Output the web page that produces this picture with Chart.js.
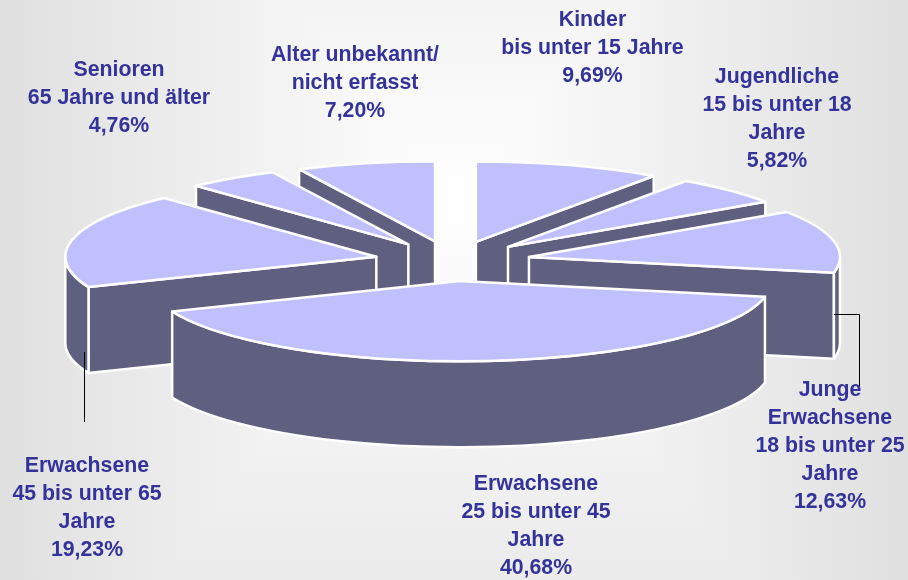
<!DOCTYPE html>
<html>
<head>
<meta charset="utf-8">
<style>
html,body{margin:0;padding:0;width:908px;height:580px;overflow:hidden;}
body{background-color:#fff;background-image:linear-gradient(90deg,#e0e0e0,#ffffff 50%,#e0e0e0),linear-gradient(180deg,#f4f4f4 0,#ffffff 200px,#ebebeb 580px);background-blend-mode:darken;}
canvas{display:block;}
</style>
<script src="https://cdn.jsdelivr.net/npm/chart.js@4"></script>
</head>
<body>
<canvas id="c" width="908" height="580"></canvas>
<script>
const categories = [
  ["Kinder","bis unter 15 Jahre"],
  ["Jugendliche","15 bis unter 18","Jahre"],
  ["Junge","Erwachsene","18 bis unter 25","Jahre"],
  ["Erwachsene","25 bis unter 45","Jahre"],
  ["Erwachsene","45 bis unter 65","Jahre"],
  ["Senioren","65 Jahre und älter"],
  ["Alter unbekannt/","nicht erfasst"]
];
const values = [9.69, 5.82, 12.63, 40.68, 19.23, 4.76, 7.20];
const valueLabels = ["9,69%","5,82%","12,63%","40,68%","19,23%","4,76%","7,20%"];

const labelCenterX = [592.5, 777, 830, 536, 87, 119, 355];
const labelFirstY = [20, 77, 390, 484, 466, 70, 55];
const labelLineHeight = 28;

const TOP_COLOR = "#c0c0ff", SIDE_COLOR = "#5f5f80", EDGE = "#ffffff", TEXT = "#333399";
const SQUASH = 0.258, DEPTH = 86, RADIUS = 311, EXPLODE = 78, EDGE_W = 2.5;

const pie3d = {
  id: "pie3d",
  beforeDatasetsDraw(chart) {
    const ctx = chart.ctx;
    const arcs = chart.getDatasetMeta(0).data;
    const cy = arcs[0].y;
    const order = arcs.map((a, i) => i).sort((p, q) => Math.sin((arcs[p].startAngle + arcs[p].endAngle) / 2) - Math.sin((arcs[q].startAngle + arcs[q].endAngle) / 2));
    const TAU = Math.PI * 2;
    for (const i of order) {
      const el = arcs[i];
      const a = el.startAngle, b = el.endAngle;
      const mid = (a + b) / 2;
      const R = el.outerRadius;
      const dx = Math.cos(mid) * EXPLODE, dy = Math.sin(mid) * EXPLODE * SQUASH;
      const ox = el.x + dx, oy = cy + dy;
      const pt = t => [ox + Math.cos(t) * R, oy + Math.sin(t) * R * SQUASH];
      const wallStyle = () => {
        ctx.fillStyle = SIDE_COLOR; ctx.strokeStyle = EDGE; ctx.lineWidth = EDGE_W; ctx.lineJoin = "round";
        ctx.fill(); ctx.stroke();
      };
      const radial = t => {
        const p = pt(t);
        ctx.beginPath();
        ctx.moveTo(ox, oy); ctx.lineTo(p[0], p[1]); ctx.lineTo(p[0], p[1] + DEPTH); ctx.lineTo(ox, oy + DEPTH); ctx.closePath();
        wallStyle();
      };
      if (Math.cos(a) < 0) radial(a);
      if (Math.cos(b) > 0) radial(b);
      // outer band: the part of the rim turned to the viewer
      for (const k of [0, 1]) {
        const lo = Math.max(a, k * TAU), hi = Math.min(b, k * TAU + Math.PI);
        if (hi > lo) {
          ctx.beginPath();
          ctx.ellipse(ox, oy, R, R * SQUASH, 0, lo, hi);
          ctx.ellipse(ox, oy + DEPTH, R, R * SQUASH, 0, hi, lo, true);
          ctx.closePath();
          wallStyle();
        }
      }
      // top face, drawn by the arc element in the squashed, exploded space
      ctx.save();
      ctx.translate(dx, cy + dy); ctx.scale(1, SQUASH); ctx.translate(0, -cy);
      el.draw(ctx);
      ctx.restore();
      ctx.beginPath();
      ctx.moveTo(ox, oy);
      ctx.ellipse(ox, oy, R, R * SQUASH, 0, a, b);
      ctx.closePath();
      ctx.strokeStyle = EDGE; ctx.lineWidth = EDGE_W; ctx.lineJoin = "round";
      ctx.stroke();
    }
    return false;
  },
  afterDraw(chart) {
    const ctx = chart.ctx;
    ctx.save();
    ctx.strokeStyle = "#000"; ctx.lineWidth = 1;
    ctx.beginPath();
    ctx.moveTo(834, 314.5); ctx.lineTo(859.5, 314.5); ctx.lineTo(859.5, 390);
    ctx.moveTo(84.5, 352); ctx.lineTo(84.5, 422);
    ctx.stroke();
    ctx.fillStyle = TEXT;
    ctx.font = "bold 21.3px 'Liberation Sans', Arial, sans-serif";
    ctx.textAlign = "center"; ctx.textBaseline = "middle";
    categories.forEach((lines, i) => {
      [...lines, valueLabels[i]].forEach((t, j) => ctx.fillText(t, labelCenterX[i], labelFirstY[i] + j * labelLineHeight));
    });
    ctx.restore();
  }
};

new Chart(document.getElementById("c"), {
  type: "pie",
  data: {
    labels: categories.map(l => l.join(" ")),
    datasets: [{ data: values, backgroundColor: TOP_COLOR, borderWidth: 0, hoverOffset: 0 }]
  },
  options: {
    responsive: false,
    animation: false,
    radius: RADIUS,
    layout: { padding: { right: 3, bottom: 58 } },
    events: [],
    plugins: { legend: { display: false }, tooltip: { enabled: false } }
  },
  plugins: [pie3d]
});
</script>
</body>
</html>
